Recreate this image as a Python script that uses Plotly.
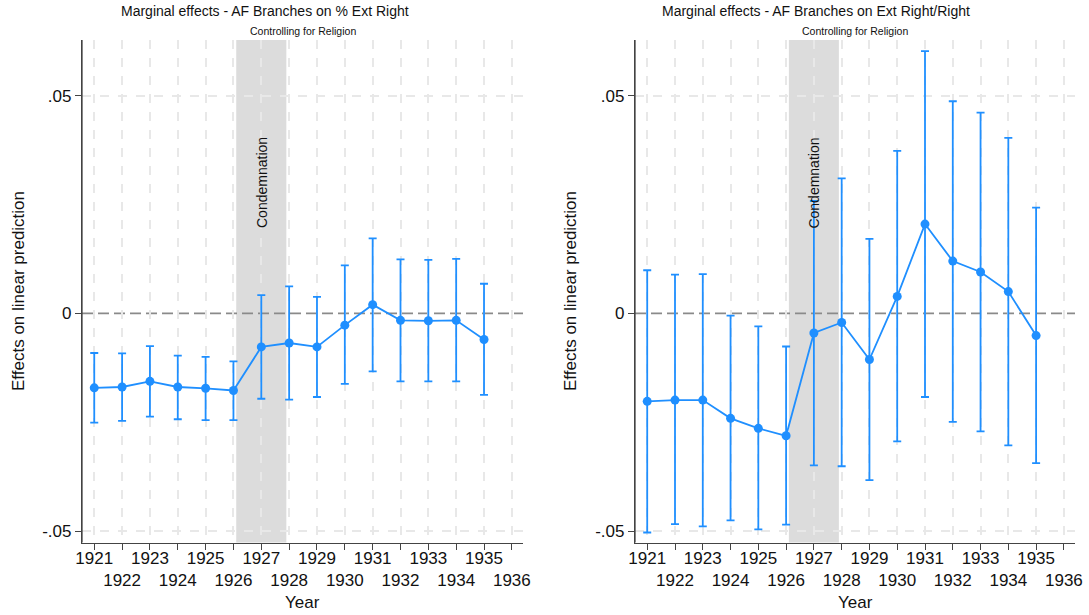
import plotly.graph_objects as go

years = list(range(1921, 1936))
tick_years = list(range(1921, 1937))

left_est = [-0.0171, -0.0169, -0.0156, -0.0169, -0.0172, -0.0177, -0.0077, -0.0068,
            -0.0077, -0.0027, 0.0020, -0.0016, -0.0017, -0.0016, -0.0060]
left_hi = [-0.0091, -0.0092, -0.0075, -0.0097, -0.0100, -0.0110, 0.0042, 0.0062,
           0.0038, 0.0110, 0.0172, 0.0124, 0.0123, 0.0125, 0.0068]
left_lo = [-0.0251, -0.0247, -0.0237, -0.0243, -0.0245, -0.0245, -0.0196, -0.0198,
           -0.0192, -0.0162, -0.0133, -0.0156, -0.0156, -0.0156, -0.0187]

right_est = [-0.0202, -0.0199, -0.0199, -0.0241, -0.0264, -0.0281, -0.0045, -0.0021,
             -0.0106, 0.0039, 0.0205, 0.0120, 0.0095, 0.0050, -0.0051]
right_hi = [0.0099, 0.0089, 0.0090, -0.0005, -0.0030, -0.0076, 0.0258, 0.0310,
            0.0171, 0.0373, 0.0602, 0.0487, 0.0461, 0.0403, 0.0243]
right_lo = [-0.0503, -0.0484, -0.0489, -0.0475, -0.0496, -0.0485, -0.0349, -0.0351,
            -0.0383, -0.0294, -0.0192, -0.0249, -0.0271, -0.0303, -0.0344]

y_tickvals = [-0.05, 0, 0.05]
y_ticktext = ["-.05", "0", ".05"]
y_gridvals = [-0.05, 0.05]

titles = ["Marginal effects - AF Branches on % Ext Right",
          "Marginal effects - AF Branches on Ext Right/Right"]
subtitle = "Controlling for Religion"
shade_range = [1926.1, 1927.9]
condemn_x = 1927
condemn_y = 0.030

BLUE = "#1f8fff"
FONT = "Liberation Sans, Arial, sans-serif"

fig = go.Figure()

panels = [
    ("x", "y", left_est, left_hi, left_lo),
    ("x2", "y2", right_est, right_hi, right_lo),
]
for xa, ya, est, hi, lo in panels:
    fig.add_trace(go.Scatter(
        x=years, y=est, xaxis=xa, yaxis=ya, mode="lines+markers",
        line=dict(color=BLUE, width=1.8),
        marker=dict(color=BLUE, size=9),
        error_y=dict(type="data", symmetric=False,
                     array=[h - e for h, e in zip(hi, est)],
                     arrayminus=[e - l for e, l in zip(est, lo)],
                     color=BLUE, thickness=1.8, width=4),
        showlegend=False, hoverinfo="skip",
    ))

x_ticktext = [str(y) if y % 2 == 1 else "<br>" + str(y) for y in tick_years]

xdoms = [[82 / 1089, 523 / 1089], [635 / 1089, 1075 / 1089]]
ydom = [1 - 542.5 / 615, 1 - 40 / 615]

common_x = dict(
    range=[1920.56, 1936.4], tickvals=tick_years, ticktext=x_ticktext,
    tickfont=dict(size=17, color="#111", family=FONT), ticks="", ticklen=0,
    minor=dict(ticks="outside", ticklen=6, tickcolor="#444", tickvals=tick_years,
               showgrid=False),
    showline=True, linecolor="#444", linewidth=1.3,
    showgrid=True, gridcolor="#e8e8e8", griddash="dash", gridwidth=1.5,
    zeroline=False, tickangle=0, fixedrange=True, automargin=False,
)
common_y = dict(
    range=[-0.0526, 0.06276], tickvals=y_tickvals, ticktext=y_ticktext,
    tickfont=dict(size=17, color="#111", family=FONT), ticks="outside", ticklen=6,
    tickcolor="#444", showline=True, linecolor="#444", linewidth=1.3,
    showgrid=False,
    minor=dict(tickvals=y_gridvals, showgrid=True, gridcolor="#e8e8e8",
               griddash="dash", gridwidth=1.5, ticks=""),
    zeroline=False, fixedrange=True, automargin=False,
)

fig.update_layout(
    width=1089, height=615,
    margin=dict(l=0, r=0, t=0, b=0),
    paper_bgcolor="white", plot_bgcolor="white",
    font=dict(family=FONT, color="#111"),
    xaxis=dict(domain=xdoms[0], anchor="y", **common_x),
    yaxis=dict(domain=ydom, anchor="x", **common_y),
    xaxis2=dict(domain=xdoms[1], anchor="y2", **common_x),
    yaxis2=dict(domain=ydom, anchor="x2", **common_y),
)

shapes = []
annotations = []
for i, (xa, ya) in enumerate([("x", "y"), ("x2", "y2")]):
    shapes.append(dict(type="rect", xref=xa, yref=ya + " domain",
                       x0=shade_range[0], x1=shade_range[1], y0=0, y1=1,
                       fillcolor="#dcdcdc", line=dict(width=0), layer="below"))
for i, (xa, ya) in enumerate([("x", "y"), ("x2", "y2")]):
    shapes.append(dict(type="line", xref=xa + " domain", yref=ya,
                       x0=0, x1=1, y0=0, y1=0,
                       line=dict(color="#8a8a8a", width=1.6, dash="11px,5px"),
                       layer="below"))
for i, (xa, ya) in enumerate([("x", "y"), ("x2", "y2")]):
    # left axis line (ensures the y-axis spine is drawn)
    shapes.append(dict(type="line", xref=xa + " domain", yref=ya + " domain",
                       x0=0, x1=0, y0=0, y1=1,
                       line=dict(color="#444", width=1.3), layer="above"))
for i, (xa, ya) in enumerate([("x", "y"), ("x2", "y2")]):
    annotations.append(dict(text="Condemnation", xref=xa, yref=ya,
                            x=condemn_x, y=condemn_y, showarrow=False,
                            textangle=-90, font=dict(size=14, color="#111")))
    dom = xdoms[i]
    plot_center = (dom[0] + dom[1]) / 2
    title_center = [265 / 1089, 816 / 1089][i]
    annotations.append(dict(text=titles[i], xref="paper", yref="paper",
                            x=title_center, y=1 - 11 / 615, showarrow=False,
                            xanchor="center", yanchor="middle",
                            font=dict(size=14, color="#111")))
    annotations.append(dict(text=subtitle, xref="paper", yref="paper",
                            x=plot_center, y=1 - 31 / 615, showarrow=False,
                            xanchor="center", yanchor="middle",
                            font=dict(size=10.5, color="#111")))
    annotations.append(dict(text="Year", xref="paper", yref="paper",
                            x=plot_center, y=1 - 602 / 615, showarrow=False,
                            xanchor="center", yanchor="middle",
                            font=dict(size=17, color="#111")))
    annotations.append(dict(text="Effects on linear prediction", xref="paper", yref="paper",
                            x=[18 / 1089, 570 / 1089][i], y=1 - 291 / 615,
                            showarrow=False, textangle=-90,
                            xanchor="center", yanchor="middle",
                            font=dict(size=17, color="#111")))

fig.update_layout(shapes=shapes, annotations=annotations)
fig.write_html("out.html")
